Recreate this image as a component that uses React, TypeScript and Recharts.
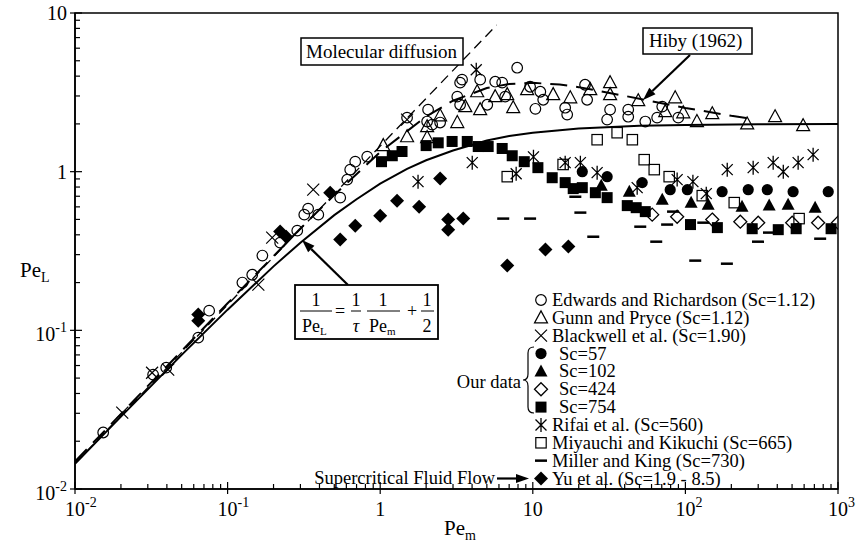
import React from "react";
import { ScatterChart, Scatter, XAxis, YAxis, ReferenceArea } from "recharts";

type Pt = [number, number]; // [Pe_m, Pe_L]

const edwards: Pt[] = [
  [0.0153, 0.0227], [0.0325, 0.0526], [0.0396, 0.0582], [0.0642, 0.0899], [0.0757, 0.133],
  [0.125, 0.2], [0.145, 0.224], [0.169, 0.296], [0.221, 0.357], [0.286, 0.425],
  [0.318, 0.536], [0.337, 0.585], [0.393, 0.536], [0.547, 0.686], [0.608, 0.891],
  [0.636, 1.03], [0.686, 1.156], [0.822, 1.244], [1.5, 2.19], [2.06, 2.46],
  [2.03, 2.07], [2.19, 1.98], [2.47, 2.04], [3.2, 2.97], [3.34, 2.64],
  [3.34, 3.64], [3.44, 3.8], [4.52, 3.8], [5.67, 3.69], [6.3, 3.64],
  [7.9, 4.52], [5.03, 2.64], [6.59, 2.97], [9.6, 3.43], [11.2, 3.19],
  [10.4, 2.49], [11.7, 2.84], [16.3, 2.53], [16.8, 2.29], [22, 3.53],
  [22.7, 2.84], [32.1, 2.46], [30.7, 2.13], [42.2, 2.46], [42.2, 2.22],
  [54.6, 2.07], [65.3, 2.19], [70.5, 2.57], [89.8, 2.19],
];

const gunn: Pt[] = [
  [1.047, 1.46], [1.5, 1.66], [2.03, 1.64], [2.03, 1.92], [2.47, 2.25], [3.2, 2.04],
  [3.61, 2.57], [4.32, 3.19], [4.52, 2.46], [5.67, 2.97], [6.8, 3.06], [7.44, 2.53],
  [9.18, 3.29], [13.6, 3.06], [17.6, 2.92], [23.8, 3.29], [32.1, 3.64], [32.1, 3.06],
  [49.1, 2.8], [73.8, 2.39], [85.7, 2.92], [96.8, 2.35], [119, 2.07], [150, 2.32],
  [254, 2.0], [387, 2.22], [591, 1.95],
];

const blackwell: Pt[] = [
  [0.0204, 0.0303], [0.032, 0.054], [0.0408, 0.0565], [0.159, 0.194],
  [0.196, 0.384], [0.364, 0.77], [1.5, 2.13],
];

const sc57: Pt[] = [
  [21.1, 1.0], [30.7, 0.93], [52.1, 0.853], [79.5, 0.77], [103, 0.77],
  [174, 0.748], [258, 0.77], [344, 0.77], [508, 0.748], [863, 0.748],
];

const sc102: Pt[] = [
  [28.1, 0.816], [42.9, 0.748], [70.5, 0.666], [109, 0.638], [141, 0.619],
  [235, 0.601], [354, 0.611], [471, 0.619], [708, 0.593],
];

const sc424: Pt[] = [
  [60.6, 0.536], [88.3, 0.52], [150, 0.499], [229, 0.484], [300, 0.477],
  [501, 0.477], [741, 0.477], [1000, 0.477],
];

const sc754: Pt[] = [
  [1.02, 1.156], [1.2, 1.26], [1.39, 1.34], [2.0, 1.46], [2.4, 1.52], [2.96, 1.55],
  [3.72, 1.55], [4.39, 1.44], [5.1, 1.44], [6.3, 1.4], [7.33, 1.26], [8.79, 1.156],
  [10.8, 1.06], [13.4, 0.916], [16.3, 0.853], [18.4, 0.782], [21.1, 0.793], [25.7, 0.737],
  [30.7, 0.686], [41.6, 0.611], [47.6, 0.593], [54.6, 0.56], [108, 0.464], [162, 0.444],
  [274, 0.437], [406, 0.431], [532, 0.437], [901, 0.437],
];

const rifai: Pt[] = [
  [4.26, 4.39], [4.01, 1.14], [1.77, 0.865], [7.78, 0.97], [10.1, 1.24], [16.3, 1.14],
  [20.5, 1.14], [26.4, 0.986], [48.3, 0.793], [88.3, 0.891], [112, 0.865], [137, 0.727],
  [188, 1.03], [278, 1.06], [376, 1.14], [438, 1.0], [548, 1.14], [687, 1.28],
];

const miyauchi: Pt[] = [
  [6.8, 0.93], [15.8, 1.11], [26.4, 1.59], [35.7, 1.76], [44.9, 1.59], [53.7, 1.19],
  [62.5, 1.03], [78.3, 0.93], [129, 0.706], [209, 0.638], [556, 0.506],
];

const miller: Pt[] = [
  [6.4, 0.506], [9.6, 0.506], [19, 0.695], [20.5, 0.552], [24.9, 0.389], [50.6, 0.45],
  [64.4, 0.362], [75.9, 0.464], [83, 0.56], [116, 0.275], [187, 0.263], [131, 0.477],
  [299, 0.362], [353, 0.413], [764, 0.378],
];

const yu: Pt[] = [
  [0.0642, 0.126], [0.0642, 0.115], [0.221, 0.419], [0.242, 0.389], [0.47, 0.737],
  [0.547, 0.373], [0.686, 0.457], [1.0, 0.528], [1.29, 0.656], [1.8, 0.601],
  [2.47, 0.904], [2.79, 0.499], [2.79, 0.431], [3.5, 0.506], [6.8, 0.256],
  [12.1, 0.323], [17.1, 0.337],
];

// curves
const tauCurve: Pt[] = [
  [0.01, 0.0144], [0.02, 0.0286], [0.05, 0.07], [0.1, 0.135], [0.2, 0.253], [0.3, 0.357],
  [0.5, 0.532], [0.7, 0.67], [1, 0.84], [1.5, 1.04], [2, 1.18], [3, 1.36], [5, 1.57],
  [7, 1.68], [10, 1.76], [20, 1.87], [50, 1.95], [100, 1.97], [300, 1.99], [1000, 2.0],
];
const molecular: Pt[] = [[0.01, 0.0145], [5.8, 8.4]];
const hiby: Pt[] = [
  [0.01, 0.0149], [0.1, 0.148], [0.3, 0.438], [0.5, 0.713], [1, 1.33], [2, 2.23],
  [3, 2.8], [5, 3.37], [7, 3.57], [10, 3.63], [15, 3.54], [20, 3.41], [30, 3.17],
  [50, 2.88], [100, 2.52], [200, 2.25], [250, 2.18],
];

const xTicks = [
  0.01, 0.02, 0.03, 0.04, 0.05, 0.06, 0.07, 0.08, 0.09,
  0.1, 0.2, 0.3, 0.4, 0.5, 0.6, 0.7, 0.8, 0.9,
  1, 2, 3, 4, 5, 6, 7, 8, 9,
  10, 20, 30, 40, 50, 60, 70, 80, 90,
  100, 200, 300, 400, 500, 600, 700, 800, 900, 1000,
];
const yTicks = [
  0.01, 0.02, 0.03, 0.04, 0.05, 0.06, 0.07, 0.08, 0.09,
  0.1, 0.2, 0.3, 0.4, 0.5, 0.6, 0.7, 0.8, 0.9,
  1, 2, 3, 4, 5, 6, 7, 8, 9, 10,
];

const FONT = "'Liberation Serif', 'Times New Roman', Times, serif";
const rows = (pts: Pt[]) => pts.map(([pem, pel]) => ({ pem, pel }));

const OpenCircle = ({ cx, cy }: any) => <circle cx={cx} cy={cy} r={5.3} fill="none" stroke="#000" strokeWidth={1.2} />;
const FilledCircle = ({ cx, cy }: any) => <circle cx={cx} cy={cy} r={5.6} fill="#000" />;
const OpenTriangle = ({ cx, cy }: any) => (
  <polygon points={`${cx},${cy - 7} ${cx - 6.5},${cy + 5} ${cx + 6.5},${cy + 5}`} fill="none" stroke="#000" strokeWidth={1.2} />
);
const FilledTriangle = ({ cx, cy }: any) => (
  <polygon points={`${cx},${cy - 7} ${cx - 6.5},${cy + 5} ${cx + 6.5},${cy + 5}`} fill="#000" />
);
const Cross = ({ cx, cy }: any) => (
  <path d={`M${cx - 6},${cy - 6}L${cx + 6},${cy + 6}M${cx - 6},${cy + 6}L${cx + 6},${cy - 6}`} stroke="#000" strokeWidth={1.2} />
);
const Asterisk = ({ cx, cy }: any) => (
  <path
    d={`M${cx - 5.5},${cy - 5.5}L${cx + 5.5},${cy + 5.5}M${cx - 5.5},${cy + 5.5}L${cx + 5.5},${cy - 5.5}M${cx},${cy - 7}L${cx},${cy + 7}`}
    stroke="#000" strokeWidth={1.3}
  />
);
const OpenDiamond = ({ cx, cy }: any) => (
  <path d={`M${cx},${cy - 6.5}L${cx + 6.5},${cy}L${cx},${cy + 6.5}L${cx - 6.5},${cy}Z`} fill="none" stroke="#000" strokeWidth={1.3} />
);
const FilledDiamond = ({ cx, cy }: any) => (
  <path d={`M${cx},${cy - 7}L${cx + 7},${cy}L${cx},${cy + 7}L${cx - 7},${cy}Z`} fill="#000" />
);
const FilledSquare = ({ cx, cy }: any) => <rect x={cx - 5.5} y={cy - 5.5} width={11} height={11} fill="#000" />;
const OpenSquare = ({ cx, cy }: any) => (
  <rect x={cx - 5.2} y={cy - 5.2} width={10.4} height={10.4} fill="none" stroke="#000" strokeWidth={1.2} />
);
const Dash = ({ cx, cy }: any) => <line x1={cx - 6} x2={cx + 6} y1={cy} y2={cy} stroke="#000" strokeWidth={2.5} />;

const mk = (C: any) => (p: any) => <C cx={p.cx} cy={p.cy} />;
const noDot = () => <g />;

const isMajor = (v: number) => {
  const e = Math.log10(v);
  return Math.abs(e - Math.round(e)) < 1e-6;
};

const PowLabel = ({ x, y, v, anchor }: any) => {
  const e = Math.round(Math.log10(v));
  if (e === 0 || e === 1) {
    return (
      <text x={x} y={y} textAnchor={anchor} fontFamily={FONT} fontSize={20}>
        {e === 0 ? "1" : "10"}
      </text>
    );
  }
  return (
    <text x={x} y={y} textAnchor={anchor} fontFamily={FONT} fontSize={20}>
      <tspan>10</tspan>
      <tspan dy={-9} fontSize={14}>{String(e)}</tspan>
    </text>
  );
};

const XTick = (props: any) => {
  const { x, y, payload } = props;
  const major = isMajor(payload.value);
  const e = Math.round(Math.log10(payload.value));
  return (
    <g>
      <line x1={x} x2={x} y1={major ? y + 5 : y} y2={y - (major ? 7 : 5)} stroke="#000" strokeWidth={1.2} />
      {major && <PowLabel x={e === 0 ? x : x - 10} y={y + 27} v={payload.value} anchor={e === 0 ? "middle" : "start"} />}
    </g>
  );
};

const YTick = (props: any) => {
  const { x, y, payload } = props;
  const major = isMajor(payload.value);
  const e = Math.round(Math.log10(payload.value));
  return (
    <g>
      <line x1={major ? x - 5 : x} x2={x + (major ? 7 : 5)} y1={y} y2={y} stroke="#000" strokeWidth={1.2} />
      {major && <PowLabel x={x - 8} y={y + (e < 0 ? 11 : 7)} v={payload.value} anchor="end" />}
    </g>
  );
};

const Arrow = ({ x1, y1, x2, y2 }: any) => {
  const a = Math.atan2(y2 - y1, x2 - x1);
  const L = 13, W = 4.5;
  const bx = x2 - L * Math.cos(a), by = y2 - L * Math.sin(a);
  const px = -Math.sin(a) * W, py = Math.cos(a) * W;
  return (
    <g>
      <line x1={x1} y1={y1} x2={bx} y2={by} stroke="#000" strokeWidth={2.2} />
      <polygon points={`${x2},${y2} ${bx + px},${by + py} ${bx - px},${by - py}`} fill="#000" />
    </g>
  );
};

const legendRows: { shape: any; label: string; sc?: boolean }[] = [
  { shape: OpenCircle, label: "Edwards and Richardson (Sc=1.12)" },
  { shape: OpenTriangle, label: "Gunn and Pryce (Sc=1.12)" },
  { shape: Cross, label: "Blackwell et al. (Sc=1.90)" },
  { shape: FilledCircle, label: "Sc=57", sc: true },
  { shape: FilledTriangle, label: "Sc=102", sc: true },
  { shape: OpenDiamond, label: "Sc=424", sc: true },
  { shape: FilledSquare, label: "Sc=754", sc: true },
  { shape: Asterisk, label: "Rifai et al. (Sc=560)" },
  { shape: OpenSquare, label: "Miyauchi and Kikuchi (Sc=665)" },
  { shape: Dash, label: "Miller and King (Sc=730)" },
  { shape: FilledDiamond, label: "Yu et al. (Sc=1.9 - 8.5)" },
];

const Overlay = () => (
  <svg width={861} height={545} style={{ position: "absolute", left: 0, top: 0, pointerEvents: "none", fontFamily: FONT }} fontFamily={FONT}>
    {/* axis titles */}
    <text x={20} y={277} fontSize={21}>
      Pe<tspan dy={5} fontSize={14}>L</tspan>
    </text>
    <text x={444} y={535} fontSize={21}>
      Pe<tspan dy={5} fontSize={14}>m</tspan>
    </text>

    {/* Molecular diffusion */}
    <rect x={301} y={38} width={162} height={27} fill="#fff" stroke="#000" strokeWidth={1.5} />
    <text x={306} y={58} fontSize={19}>Molecular diffusion</text>

    {/* Hiby */}
    <rect x={643} y={28} width={109} height={26} fill="#fff" stroke="#000" strokeWidth={1.5} />
    <text x={649} y={47} fontSize={19}>Hiby (1962)</text>
    <Arrow x1={690} y1={55} x2={643} y2={100} />

    {/* formula */}
    <Arrow x1={348} y1={285} x2={302} y2={240} />
    <rect x={295} y={285} width={143} height={54} fill="#fff" stroke="#000" strokeWidth={1.8} />
    <g fontSize={18}>
      <text x={316} y={306} textAnchor="middle">1</text>
      <line x1={300} x2={332} y1={311} y2={311} stroke="#000" strokeWidth={1} />
      <text x={302} y={332}>Pe<tspan dy={3} fontSize={11}>L</tspan></text>
      <text x={340} y={317} textAnchor="middle">=</text>
      <text x={356} y={306} textAnchor="middle">1</text>
      <line x1={351} x2={361} y1={311} y2={311} stroke="#000" strokeWidth={1} />
      <text x={356} y={332} textAnchor="middle" fontStyle="italic">τ</text>
      <text x={383} y={306} textAnchor="middle">1</text>
      <line x1={367} x2={400} y1={311} y2={311} stroke="#000" strokeWidth={1} />
      <text x={369} y={332}>Pe<tspan dy={3} fontSize={11}>m</tspan></text>
      <text x={412} y={317} textAnchor="middle">+</text>
      <text x={427} y={306} textAnchor="middle">1</text>
      <line x1={421} x2={434} y1={311} y2={311} stroke="#000" strokeWidth={1} />
      <text x={427} y={332} textAnchor="middle">2</text>
    </g>

    {/* legend */}
    {legendRows.map((r, i) => {
      const cy = 300 + i * 17.85;
      const S = r.shape;
      return (
        <g key={r.label}>
          <S cx={541} cy={cy} />
          <text x={r.sc ? 559 : 552} y={cy + 6} fontSize={18.5}>{r.label}</text>
        </g>
      );
    })}
    <text x={521} y={388} fontSize={18.5} textAnchor="end">Our data</text>
    <path
      d="M534,347 Q528,347 528,353 L528,374 Q528,380 523,380 Q528,380 528,386 L528,407 Q528,413 534,413"
      fill="none" stroke="#000" strokeWidth={1.2}
    />
    <text x={495} y={484} fontSize={18.5} textAnchor="end">Supercritical Fluid Flow</text>
    <Arrow x1={497} y1={478.5} x2={529} y2={478.5} />
  </svg>
);

export default function App() {
  return (
    <div style={{ position: "absolute", left: 0, top: 0, width: 861, height: 545, background: "#fff", fontFamily: FONT }}>
      <ScatterChart width={861} height={545} margin={{ top: 13, right: 23, bottom: 16, left: 15 }}>
        <XAxis
          type="number" dataKey="pem" scale="log" domain={[0.01, 1000]} allowDataOverflow
          ticks={xTicks} interval={0} tick={<XTick />} tickLine={false} tickSize={0} tickMargin={0}
          height={40} axisLine={{ stroke: "#000", strokeWidth: 1.6 }}
        />
        <YAxis
          type="number" dataKey="pel" scale="log" domain={[0.01, 10]} allowDataOverflow
          ticks={yTicks} interval={0} tick={<YTick />} tickLine={false} tickSize={0} tickMargin={0}
          width={60} axisLine={{ stroke: "#000", strokeWidth: 1.6 }}
        />
        <ReferenceArea x1={0.01} x2={1000} y1={0.01} y2={10} fill="none" fillOpacity={0} stroke="#000" strokeWidth={1.5} ifOverflow="visible" />
        <Scatter data={rows(tauCurve)} line={{ stroke: "#000", strokeWidth: 2 }} shape={noDot} isAnimationActive={false} />
        <Scatter data={rows(molecular)} line={{ stroke: "#000", strokeWidth: 1.3, strokeDasharray: "10 6" }} shape={noDot} isAnimationActive={false} />
        <Scatter data={rows(hiby)} line={{ stroke: "#000", strokeWidth: 2, strokeDasharray: "17 9" }} shape={noDot} isAnimationActive={false} />
        <Scatter data={rows(edwards)} shape={mk(OpenCircle)} isAnimationActive={false} />
        <Scatter data={rows(gunn)} shape={mk(OpenTriangle)} isAnimationActive={false} />
        <Scatter data={rows(blackwell)} shape={mk(Cross)} isAnimationActive={false} />
        <Scatter data={rows(sc57)} shape={mk(FilledCircle)} isAnimationActive={false} />
        <Scatter data={rows(sc102)} shape={mk(FilledTriangle)} isAnimationActive={false} />
        <Scatter data={rows(sc424)} shape={mk(OpenDiamond)} isAnimationActive={false} />
        <Scatter data={rows(sc754)} shape={mk(FilledSquare)} isAnimationActive={false} />
        <Scatter data={rows(rifai)} shape={mk(Asterisk)} isAnimationActive={false} />
        <Scatter data={rows(miyauchi)} shape={mk(OpenSquare)} isAnimationActive={false} />
        <Scatter data={rows(miller)} shape={mk(Dash)} isAnimationActive={false} />
        <Scatter data={rows(yu)} shape={mk(FilledDiamond)} isAnimationActive={false} />
      </ScatterChart>
      <Overlay />
    </div>
  );
}
